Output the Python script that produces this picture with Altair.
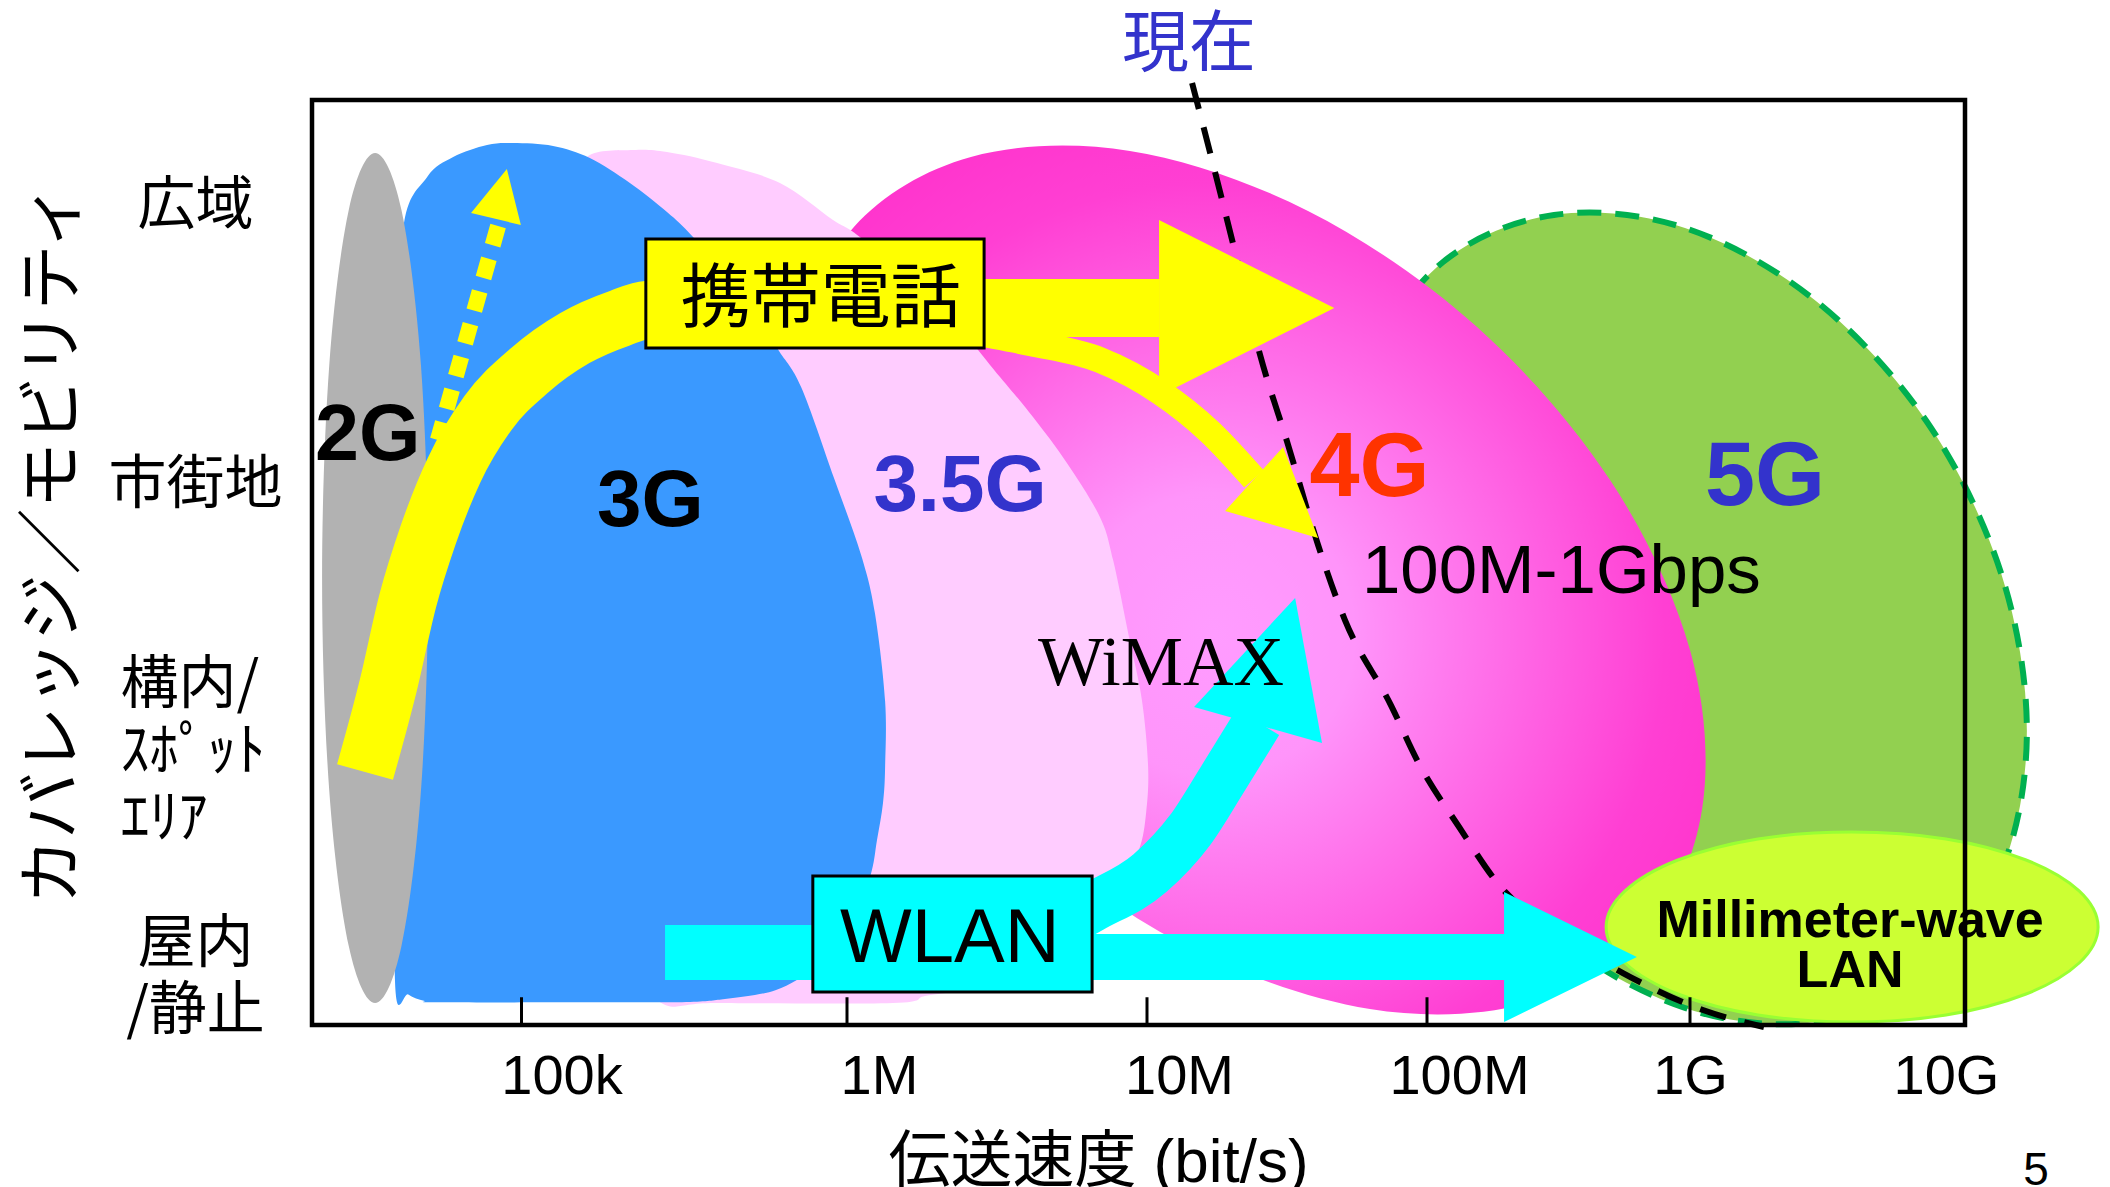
import json
import altair as alt
import pandas as pd

# ---------------------------------------------------------------------------
# Axes: x = transmission rate as log10(bit/s), y = coverage / mobility index
# ---------------------------------------------------------------------------
RATE_TICKS = [5, 6, 7, 8, 9, 10]
RATE_TICK_LABELS = ["100k", "1M", "10M", "100M", "1G", "10G"]
RATE_MIN, RATE_MAX = 4.356, 10.0
COVER_MIN, COVER_MAX = 0.0, 10.0

# coverage classes (multi-line names hang from their level)
COVER_LEVELS = [8.85, 5.83, 3.669, 0.869]
COVER_LABELS = [["広域"], ["市街地"], ["構内/", "ｽﾎﾟｯﾄ", "ｴﾘｱ"], ["屋内", "/静止"]]

# ---------------------------------------------------------------------------
# Generation regions (outline points: rate, coverage)
# ---------------------------------------------------------------------------
G2_RATE = [4.713, 4.691, 4.631, 4.550, 4.469, 4.409, 4.387, 4.409, 4.469, 4.550, 4.631, 4.691]
G2_COVER = [4.832, 7.130, 8.811, 9.427, 8.811, 7.130, 4.832, 2.535, 0.853, 0.237, 0.853, 2.535]

G3_RATE = [4.611, 4.621, 4.627, 4.636, 4.710, 4.790, 4.894, 4.974, 5.097, 5.210, 5.333, 5.447,
           5.527, 5.671, 5.785, 5.859, 5.960, 6.047, 6.093, 6.127, 6.127, 6.120, 6.100, 6.077,
           6.010, 5.917, 5.846, 5.782, 5.717, 5.625, 5.518, 5.241, 4.745, 4.700, 4.652]
G3_COVER = [0.490, 3.514, 6.757, 8.595, 9.168, 9.384, 9.514, 9.535, 9.503, 9.373, 9.103, 8.789,
            8.519, 7.946, 7.319, 6.897, 5.914, 5.081, 4.454, 3.503, 2.789, 2.400, 2.000, 1.600,
            1.027, 0.649, 0.486, 0.378, 0.324, 0.281, 0.250, 0.245, 0.245, 0.262, 0.330]

G35_RATE = [5.118, 5.149, 5.201, 5.343, 5.447, 5.601, 5.794, 5.957, 6.043, 6.293, 6.510, 6.620,
            6.733, 6.843, 6.887, 6.940, 6.983, 7.004, 6.997, 6.973, 6.903, 6.793, 6.610, 6.377,
            6.260, 6.153, 5.600, 5.420, 5.280]
G35_COVER = [4.595, 8.919, 9.384, 9.459, 9.438, 9.319, 9.103, 8.703, 8.519, 7.838, 7.005, 6.573,
             6.076, 5.492, 5.027, 4.195, 3.514, 2.789, 2.292, 1.892, 1.459, 0.973, 0.595, 0.378,
             0.314, 0.238, 0.238, 0.260, 1.000]

G4_RATE = [8.833, 8.388, 7.796, 7.161, 6.590, 6.143, 5.886, 5.849, 6.023, 6.413, 6.943, 7.575,
           8.186, 8.696, 9.000, 9.044]
G4_COVER = [0.995, 0.238, 0.173, 0.822, 2.065, 3.730, 5.568, 7.286, 8.627, 9.384, 9.449, 8.800,
            7.557, 5.892, 4.054, 2.335]

G5_RATE = [10.225, 10.131, 9.862, 9.458, 8.981, 8.483, 8.061, 7.793, 7.700, 7.793, 8.061, 8.483,
           8.981, 9.458, 9.862, 10.131]
G5_COVER = [3.178, 1.654, 0.551, 0.032, 0.184, 0.973, 2.281, 3.914, 5.622, 7.135, 8.249, 8.757,
            8.616, 7.827, 6.519, 4.886]

MMW_RATE = [10.484, 10.415, 10.222, 9.931, 9.589, 9.247, 8.954, 8.753, 8.681, 8.753, 8.954, 9.247,
            9.589, 9.931, 10.222, 10.415]
MMW_COVER = [1.059, 0.670, 0.335, 0.108, 0.032, 0.108, 0.335, 0.670, 1.059, 1.449, 1.784, 2.011,
             2.086, 2.011, 1.784, 1.449]

# "現在" (present) boundary
NOW_RATE = [7.161, 7.232, 7.304, 7.404, 7.504, 7.611, 7.707, 7.871, 7.968, 8.122, 8.274, 8.506,
            8.745, 9.047, 9.269]
NOW_COVER = [10.184, 9.351, 8.486, 7.243, 6.270, 5.189, 4.378, 3.459, 2.843, 2.141, 1.514, 0.973,
             0.562, 0.162, -0.022]

# ---------------------------------------------------------------------------
# Evolution arrows
# ---------------------------------------------------------------------------
MOBILE_RATE = [4.519, 4.590, 4.651, 4.713, 4.793, 4.897, 5.026, 5.164, 5.303, 5.386, 5.548, 7.043]
MOBILE_COVER = [2.735, 3.665, 4.595, 5.297, 6.000, 6.616, 7.081, 7.427, 7.643, 7.730, 7.751, 7.751]
MOBILE_HEAD_RATE = [7.043, 7.669, 7.043]
MOBILE_HEAD_COVER = [8.703, 7.751, 6.800]

BRANCH_RATE = [6.377, 6.610, 6.843, 7.046, 7.225, 7.382]
BRANCH_COVER = [7.514, 7.373, 7.189, 6.843, 6.411, 5.903]
BRANCH_HEAD_RATE = [7.486, 7.611, 7.279]
BRANCH_HEAD_COVER = [6.249, 5.265, 5.557]

UP_RATE = [4.928, 4.743]
UP_COVER = [8.638, 6.324]
UP_HEAD_RATE = [4.955, 4.998, 4.845]
UP_HEAD_COVER = [9.254, 8.649, 8.778]

WLAN_RATE = [5.441, 6.343, 6.343, 8.293, 8.293, 8.798, 8.293, 8.293, 5.441]
WLAN_COVER = [1.081, 1.081, 0.984, 0.984, 1.438, 0.735, 0.032, 0.486, 0.486]

WIMAX_RATE = [6.710, 6.813, 7.011, 7.154, 7.268, 7.396]
WIMAX_COVER = [1.080, 1.265, 1.643, 2.108, 2.649, 3.276]
WIMAX_HEAD_RATE = [7.168, 7.529, 7.625]
WIMAX_HEAD_COVER = [3.438, 4.616, 3.049]

# label boxes: rate from/to, coverage from/to
MOBILE_BOX = [5.382, 6.457, 7.319, 8.497]
WLAN_BOX = [5.895, 6.817, 0.357, 1.611]

GEN_NAMES = ["2G", "3G", "3.5G", "4G", "5G"]
GEN_RATE = [4.527, 5.396, 6.377, 7.795, 9.273]
GEN_COVER = [6.108, 5.395, 5.557, 5.719, 5.622]

# ---------------------------------------------------------------------------
PLOT_W, PLOT_H = 1653, 925
RATE_AXIS_STOPS = [0, 209.5, 535, 835, 1115, 1378, PLOT_W]   # hand-drawn, uneven decades
SANS = "Liberation Sans"
CJK = "Noto Sans CJK JP"


def chain(values, outputs, default):
    expr = default
    for v, o in reversed(list(zip(values, outputs))):
        expr = f"abs(datum.value - {v}) < 0.01 ? {o} : {expr}"
    return expr


X_SCALE = alt.Scale(domain=[RATE_MIN, 5, 6, 7, 8, 9, RATE_MAX], range=RATE_AXIS_STOPS,
                    nice=False, zero=False)
Y_SCALE = alt.Scale(domain=[COVER_MIN, COVER_MAX], nice=False, zero=False)

X_AXIS = alt.Axis(
    values=RATE_TICKS,
    labelExpr=chain(RATE_TICKS, [json.dumps(s) for s in RATE_TICK_LABELS], "''"),
    labelOffset={"condition": [{"test": "datum.value == 9", "value": 0},
                               {"test": "datum.value == 10", "value": -19},
                               {"test": "datum.value == 5", "value": 40}],
                 "value": 32},
    ticks=False, tickSize=0, domain=False, grid=False,
    labelFont=SANS, labelFontSize=56, labelColor="black",
    labelBaseline="alphabetic", labelPadding=68,
    labelFlush=False, labelOverlap=False, labelLimit=400,
    title="伝送速度 (bit/s)", titleFont=f"{SANS}, {CJK}", titleFontSize=62,
    titleFontWeight="normal", titleColor="black",
    titleX=786, titleY=137, titleAlign="center", titleBaseline="middle",
)

SPOT_TEST = f"abs(datum.value - {COVER_LEVELS[2]}) < 0.01"
Y_AXIS = alt.Axis(
    values=COVER_LEVELS,
    labelExpr=chain(COVER_LEVELS, [json.dumps(l, ensure_ascii=False) for l in COVER_LABELS], "''"),
    labelAlign={"condition": {"test": SPOT_TEST, "value": "left"}, "value": "center"},
    labelPadding={"condition": {"test": SPOT_TEST, "value": 192}, "value": 117},
    ticks=False, tickSize=0, domain=False, grid=False,
    labelFont=CJK, labelFontSize=58, labelLineHeight=67, labelColor="black",
    labelBaseline="middle", labelOverlap=False, labelLimit=400,
    title="カバレッジ／モビリティ", titleFont=CJK, titleFontSize=66,
    titleFontWeight="normal", titleColor="black", titleAngle=270,
    titleX=-259, titleY=443, titleAlign="center", titleBaseline="middle",
)


def X(field):
    return alt.X(field, type="quantitative", scale=X_SCALE, axis=X_AXIS)


def Y(field):
    return alt.Y(field, type="quantitative", scale=Y_SCALE, axis=Y_AXIS)


def points(rates, covers):
    return pd.DataFrame({"rate": rates, "cover": covers, "i": list(range(len(rates)))})


def region(rates, covers, interpolate="cardinal-closed", **mark):
    return alt.Chart(points(rates, covers)).mark_line(
        filled=True, interpolate=interpolate, **mark
    ).encode(x=X("rate"), y=Y("cover"), order="i:Q")


def path(rates, covers, interpolate="monotone", **mark):
    return alt.Chart(points(rates, covers)).mark_line(
        interpolate=interpolate, strokeCap="butt", **mark
    ).encode(x=X("rate"), y=Y("cover"), order="i:Q")


def box(extent, fill):
    df = pd.DataFrame({"r0": [extent[0]], "r1": [extent[1]], "c0": [extent[2]], "c1": [extent[3]]})
    return alt.Chart(df).mark_rect(fill=fill, stroke="black", strokeWidth=3).encode(
        x=X("r0"), x2="r1", y=Y("c0"), y2="c1")


def label(text, rate, cover, **style):
    df = pd.DataFrame({"rate": [rate], "cover": [cover], "text": [text]})
    return alt.Chart(df).mark_text(align="center", baseline="alphabetic", **style).encode(
        x=X("rate"), y=Y("cover"), text="text:N")


FOUR_G_FILL = {
    "gradient": "radial",
    "x1": 0.46, "y1": 0.56, "r1": 0,
    "x2": 0.46, "y2": 0.56, "r2": 0.62,
    "stops": [
        {"offset": 0, "color": "#FF9CFF"},
        {"offset": 0.25, "color": "#FF94FA"},
        {"offset": 0.8, "color": "#FF3FD3"},
        {"offset": 1, "color": "#FF33CC"},
    ],
}

layers = [
    region(G5_RATE, G5_COVER, color="#92D050"),
    path(G5_RATE, G5_COVER, interpolate="cardinal-closed", color="#00B050",
         strokeWidth=6, strokeDash=[24, 14]),
    region(G4_RATE, G4_COVER, color=FOUR_G_FILL),
    region(G35_RATE, G35_COVER, color="#FFCCFF"),
    region(G3_RATE, G3_COVER, color="#3A99FF"),
    region(G2_RATE, G2_COVER, color="#B2B2B2"),
    path(NOW_RATE, NOW_COVER, color="black", strokeWidth=6, strokeDash=[27, 19]),
    region(MMW_RATE, MMW_COVER, color="#CCFF33"),
    path(MMW_RATE, MMW_COVER, interpolate="cardinal-closed", color="#99FF33", strokeWidth=3),
]

# inward tick marks on the rate axis
ticks_df = pd.DataFrame({"rate": RATE_TICKS, "c0": [COVER_MIN] * len(RATE_TICKS),
                         "c1": [0.3] * len(RATE_TICKS)})
layers.append(alt.Chart(ticks_df).mark_rule(color="black", strokeWidth=3).encode(
    x=X("rate"), y=Y("c0"), y2="c1"))

# mobile phone evolution (yellow)
layers += [
    path(UP_RATE, UP_COVER, interpolate="linear", color="#FFFF00", strokeWidth=16,
         strokeDash=[20, 14]),
    region(UP_HEAD_RATE, UP_HEAD_COVER, interpolate="linear-closed", color="#FFFF00"),
    path(MOBILE_RATE, MOBILE_COVER, color="#FFFF00", strokeWidth=58),
    path(BRANCH_RATE, BRANCH_COVER, color="#FFFF00", strokeWidth=26),
    region(MOBILE_HEAD_RATE, MOBILE_HEAD_COVER, interpolate="linear-closed", color="#FFFF00"),
    region(BRANCH_HEAD_RATE, BRANCH_HEAD_COVER, interpolate="linear-closed", color="#FFFF00"),
    box(MOBILE_BOX, "#FFFF00"),
    label("携帯電話", (MOBILE_BOX[0] + MOBILE_BOX[1]) / 2, 7.6, font=CJK, fontSize=70,
          color="black"),
]

# wireless LAN evolution (cyan)
layers += [
    path(WIMAX_RATE, WIMAX_COVER, color="#00FFFF", strokeWidth=50),
    region(WIMAX_HEAD_RATE, WIMAX_HEAD_COVER, interpolate="linear-closed", color="#00FFFF"),
    region(WLAN_RATE, WLAN_COVER, interpolate="linear-closed", color="#00FFFF"),
    box(WLAN_BOX, "#00FFFF"),
    label("WLAN", 6.343, 0.681, font=SANS, fontSize=76, color="black"),
]

# plot frame
frame_df = pd.DataFrame({"r0": [RATE_MIN], "r1": [RATE_MAX], "c0": [COVER_MIN], "c1": [COVER_MAX]})
layers.append(alt.Chart(frame_df).mark_rect(filled=False, color="black", strokeWidth=4.5).encode(
    x=X("r0"), x2="r1", y=Y("c0"), y2="c1"))

# generation names
GEN_STYLE = {
    "2G": ("black", 79), "3G": ("black", 80), "3.5G": ("#3333CC", 80),
    "4G": ("#FF3300", 90), "5G": ("#3333CC", 90),
}
for name, rate, cover in zip(GEN_NAMES, GEN_RATE, GEN_COVER):
    colour, size = GEN_STYLE[name]
    layers.append(label(name, rate, cover, font=SANS, fontWeight="bold", fontSize=size,
                        color=colour))

layers += [
    label("100M-1Gbps", 8.511, 4.670, font=SANS, fontSize=69, color="black"),
    label("WiMAX", 7.05, 3.676, font="Liberation Serif", fontSize=70, color="black"),
    label("Millimeter-wave\nLAN", 9.582, 0.951, font=SANS, fontWeight="bold", fontSize=52,
          lineHeight=50, lineBreak="\n", color="black"),
    label("現在", 7.15, 10.368, font=CJK, fontSize=67, color="#3333CC"),
    label("5", 10.258, -1.73, font=SANS, fontSize=46, color="black"),
]

chart = alt.layer(*layers).properties(
    width=PLOT_W,
    height=PLOT_H,
    padding={"left": 312, "top": 100, "right": 145, "bottom": 162},
    autosize=alt.AutoSizeParams(type="none"),
    background="white",
).configure_view(strokeWidth=0)

chart.save("out.html", embed_options={"renderer": "svg", "actions": False})
